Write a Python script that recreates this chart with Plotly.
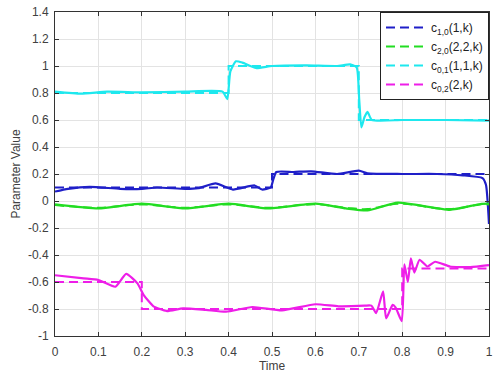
import plotly.graph_objects as go

# Time grids and estimated parameter trajectories (solid) with their reference steps (dashed)
t_c10 = [0, 0.03, 0.08, 0.15, 0.2, 0.235, 0.3, 0.33, 0.37, 0.41, 0.46, 0.477, 0.497,
         0.503, 0.51, 0.55, 0.59, 0.65, 0.7, 0.72, 0.8, 0.88, 0.94, 0.985, 0.993, 1.0]
est_c10 = [0.07, 0.09, 0.105, 0.09, 0.09, 0.1, 0.09, 0.095, 0.13, 0.085, 0.115, 0.085, 0.1,
           0.16, 0.215, 0.215, 0.22, 0.2, 0.225, 0.205, 0.2, 0.2, 0.19, 0.17, 0.12, -0.17]
tref_c10 = [0, 0.5, 1.0]
ref_c10 = [0.1, 0.2, 0.2]

t_c20 = [0, 0.1, 0.2, 0.3, 0.4, 0.49, 0.6, 0.67, 0.72, 0.79, 0.91, 0.98, 1.0]
est_c20 = [-0.025, -0.055, -0.02, -0.055, -0.02, -0.055, -0.02, -0.055, -0.07, -0.012,
           -0.065, -0.022, -0.02]
tref_c20 = [0, 0.1, 0.2, 0.3, 0.4, 0.49, 0.6, 0.67, 0.72, 0.79, 0.91, 0.98, 1.0]
ref_c20 = [-0.03, -0.05, -0.025, -0.05, -0.025, -0.05, -0.025, -0.05, -0.06, -0.02,
           -0.06, -0.025, -0.025]

t_c01 = [0, 0.06, 0.12, 0.2, 0.3, 0.386, 0.397, 0.404, 0.417, 0.432, 0.463, 0.5, 0.58,
         0.65, 0.68, 0.695, 0.701, 0.706, 0.713, 0.72, 0.73, 0.8, 0.9, 1.0]
est_c01 = [0.81, 0.795, 0.81, 0.805, 0.81, 0.81, 0.755, 0.96, 1.035, 1.025, 0.985, 1.0, 1.005,
           1.0, 1.012, 0.99, 0.75, 0.545, 0.62, 0.66, 0.6, 0.6, 0.6, 0.595]
tref_c01 = [0, 0.4, 0.7, 1.0]
ref_c01 = [0.8, 1.0, 0.6, 0.6]

t_c02 = [0, 0.066, 0.10, 0.139, 0.164, 0.19, 0.204, 0.227, 0.257, 0.295, 0.348, 0.394, 0.455,
         0.523, 0.6, 0.653, 0.714, 0.729, 0.74, 0.756, 0.763, 0.778, 0.785, 0.799, 0.805,
         0.813, 0.82, 0.828, 0.84, 0.858, 0.876, 0.91, 0.957, 1.0]
est_c02 = [-0.55, -0.573, -0.585, -0.635, -0.54, -0.61, -0.695, -0.78, -0.815, -0.795, -0.807,
           -0.82, -0.785, -0.81, -0.765, -0.78, -0.775, -0.775, -0.83, -0.67, -0.87, -0.77,
           -0.79, -0.89, -0.47, -0.6, -0.425, -0.53, -0.435, -0.485, -0.45, -0.485, -0.49, -0.475]
tref_c02 = [0, 0.2, 0.8, 1.0]
ref_c02 = [-0.6, -0.8, -0.5, -0.5]

x_ticks = [0, 0.1, 0.2, 0.3, 0.4, 0.5, 0.6, 0.7, 0.8, 0.9, 1.0]
x_labels = ["0", "0.1", "0.2", "0.3", "0.4", "0.5", "0.6", "0.7", "0.8", "0.9", "1"]
y_ticks = [-1, -0.8, -0.6, -0.4, -0.2, 0, 0.2, 0.4, 0.6, 0.8, 1.0, 1.2, 1.4]
y_labels = ["-1", "-0.8", "-0.6", "-0.4", "-0.2", "0", "0.2", "0.4", "0.6", "0.8", "1", "1.2", "1.4"]

series = [
    ("c<sub>1,0</sub>(1,k)", "#1f1fc8", t_c10, est_c10, tref_c10, ref_c10, "hv"),
    ("c<sub>2,0</sub>(2,2,k)", "#22dd22", t_c20, est_c20, tref_c20, ref_c20, "spline"),
    ("c<sub>0,1</sub>(1,1,k)", "#1ee8ee", t_c01, est_c01, tref_c01, ref_c01, "hv"),
    ("c<sub>0,2</sub>(2,k)", "#ee1ee8", t_c02, est_c02, tref_c02, ref_c02, "hv"),
]

fig = go.Figure()
for name, color, t, est, tr, ref, ref_shape in series:
    fig.add_trace(go.Scatter(
        x=tr, y=ref, mode="lines", name=name,
        line=dict(color=color, width=2, dash="9px,5px", shape=ref_shape),
    ))
    fig.add_trace(go.Scatter(
        x=t, y=est, mode="lines", showlegend=False,
        line=dict(color=color, width=2.2, shape="spline", smoothing=0.5),
    ))

axis_common = dict(
    showline=True, linecolor="#333333", linewidth=1, mirror="ticks",
    ticks="inside", ticklen=4, tickcolor="#333333",
    showgrid=True, gridcolor="#e3e3e3", gridwidth=1, zeroline=False,
    tickfont=dict(family="Liberation Sans, Arial", size=12, color="#404040"),
    ticklabeloverflow="allow",
)

fig.update_layout(
    width=494, height=378,
    margin=dict(l=55, r=1, t=12, b=42),
    paper_bgcolor="white", plot_bgcolor="white",
    font=dict(family="Liberation Sans, Arial", size=12, color="#404040"),
    xaxis=dict(range=[0, 1], tickvals=x_ticks, ticktext=x_labels,
               ticklabelstandoff=5,
               title=dict(text="Time", standoff=2, font=dict(size=12, color="#404040")),
               **axis_common),
    yaxis=dict(range=[-1, 1.4], tickvals=y_ticks, ticktext=y_labels,
               ticklabelstandoff=3,
               title=dict(text="Parameter Value", standoff=4, font=dict(size=12, color="#404040")),
               **axis_common),
    legend=dict(x=1, y=1, xanchor="right", yanchor="top",
                bgcolor="white", bordercolor="#222222", borderwidth=1,
                font=dict(family="Liberation Sans, Arial", size=12, color="#222222"),
                tracegroupgap=0, itemwidth=40),
    showlegend=True,
)

fig.write_html("out.html")
